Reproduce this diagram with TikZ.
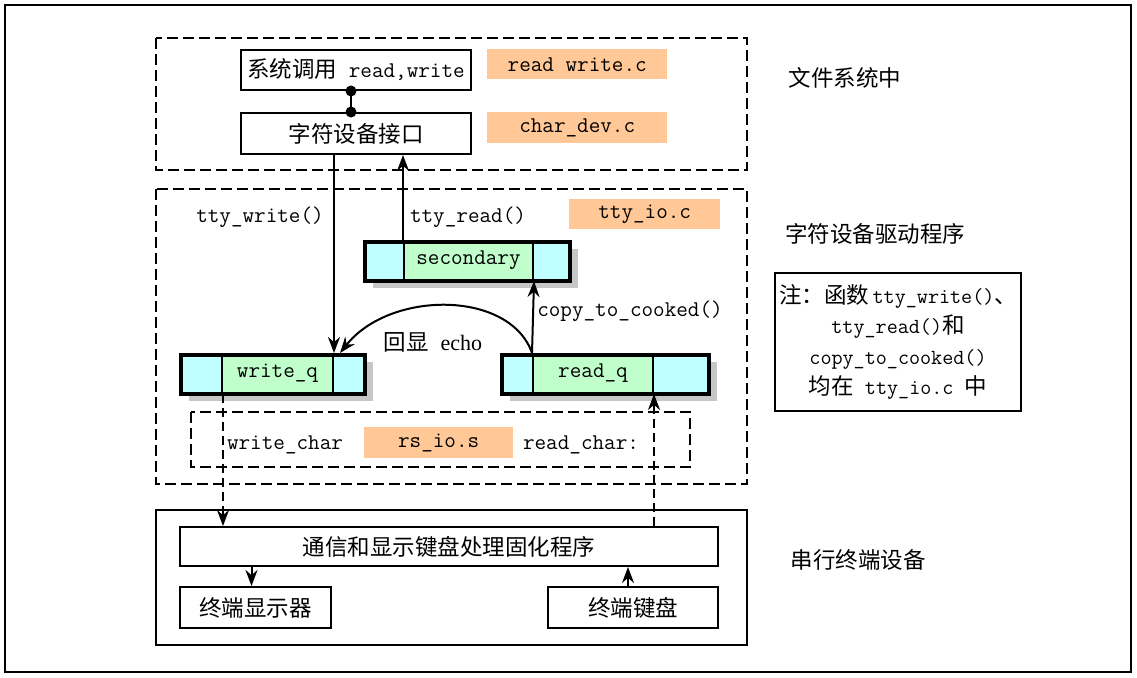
\documentclass[tikz,border=0pt]{standalone}
\usepackage{fontspec}
\newfontfamily\cjk{Noto Sans CJK SC}
\newfontfamily\serifw{Liberation Serif}
\usetikzlibrary{arrows.meta}
\definecolor{orfill}{RGB}{255,200,150}
\definecolor{qcyan}{RGB}{192,255,255}
\definecolor{qgreen}{RGB}{192,255,204}
\newcommand{\cj}[1]{{\cjk\fontsize{22.5}{26}\selectfont #1}}
\begin{document}
\begin{tikzpicture}[x=1pt,y=-1pt,
  every node/.style={font=\ttfamily\fontsize{22.5}{26}\selectfont, inner sep=0pt},
  box/.style={draw, line width=2pt, anchor=north west},
  orbox/.style={fill=orfill, anchor=north west},
  dbox/.style={draw, line width=2pt, dash pattern=on 11pt off 5pt},
  cell/.style={draw, line width=2pt, anchor=north west, minimum height=39pt},
  qframe/.style={draw, line width=4pt, anchor=north west, minimum height=39pt},
  shadowbox/.style={fill=gray!45, anchor=north west, minimum height=39pt},
  arr/.style={line width=2pt, -{Stealth[length=16pt,width=12pt]}},
  darr/.style={line width=2pt, dash pattern=on 9pt off 5pt, -{Stealth[length=16pt,width=12pt]}},
  lbl/.style={}]
\useasboundingbox (0,0) rectangle (1137,677);
\draw[line width=2.5pt] (5,5) rectangle (1131,672);

% dashed / solid group frames
\draw[dbox] (156,38) rectangle (747,170);
\draw[dbox] (156,189) rectangle (747,484);
\draw[dbox] (191,412) rectangle (690,467);
\draw[line width=2pt] (156,510) rectangle (747,645);

% top group
\node[box, minimum width=230pt, minimum height=40pt] (sys) at (240,49) {\cj{系统调用} read,write};
\node[orbox, minimum width=180pt, minimum height=30pt] (rw) at (487,49) {read write.c};
\node[box, minimum width=230pt, minimum height=41pt] (cdev) at (240,112) {\cj{字符设备接口}};
\node[orbox, minimum width=180pt, minimum height=31pt] (cd) at (487,112) {char\_dev.c};
\coordinate (d1) at ([xshift=-5pt]sys.south);
\coordinate (d2) at ([xshift=-5pt]cdev.north);
\draw[line width=2.5pt] (d1) -- (d2);
\fill (d1) circle (5.5pt);
\fill (d2) circle (5.5pt);

% middle group
\node[orbox, minimum width=151pt, minimum height=30pt] (tio) at (569,199) {tty\_io.c};
\node[lbl] (twl) at (260,217) {tty\_write()};
\node[lbl] (trl) at (468,217) {tty\_read()};

% secondary queue
\node[shadowbox, minimum width=205pt] (secS) at (373,249) {};
\node[cell, fill=qcyan, minimum width=40pt] (secL) at (363,240) {};
\node[cell, fill=qgreen, minimum width=129pt] (secG) at (403,240) {secondary};
\node[cell, fill=qcyan, minimum width=36pt] (secR) at (532,240) {};
\node[qframe, minimum width=205pt] (sec) at (363,240) {};

% write_q
\node[shadowbox, minimum width=184pt] (wqS) at (189,362) {};
\node[cell, fill=qcyan, minimum width=42pt] (wqL) at (179,353) {};
\node[cell, fill=qgreen, minimum width=111pt] (wqG) at (221,353) {write\_q};
\node[cell, fill=qcyan, minimum width=31pt] (wqR) at (332,353) {};
\node[qframe, minimum width=184pt] (wq) at (179,353) {};

% read_q
\node[shadowbox, minimum width=207pt] (rqS) at (510,362) {};
\node[cell, fill=qcyan, minimum width=32pt] (rqL) at (500,353) {};
\node[cell, fill=qgreen, minimum width=120pt] (rqG) at (532,353) {read\_q};
\node[cell, fill=qcyan, minimum width=55pt] (rqR) at (652,353) {};
\node[qframe, minimum width=207pt] (rq) at (500,353) {};

\node[lbl] (ctc) at (630,311) {copy\_to\_cooked()};
\node[lbl] (echo) at (433,342) {\cj{回显} {\serifw\fontsize{22}{26}\selectfont echo}};

\node[lbl] (wch) at (285,445) {write\_char};
\node[orbox, minimum width=149pt, minimum height=31pt] (rsio) at (364,427) {rs\_io.s};
\node[lbl] (rch) at (581,445) {read\_char:};

% bottom group
\node[box, minimum width=538pt, minimum height=39pt] (comm) at (179,526) {\cj{通信和显示键盘处理固化程序}};
\node[box, minimum width=151pt, minimum height=41pt] (disp) at (179,586) {\cj{终端显示器}};
\node[box, minimum width=170pt, minimum height=41pt] (kb) at (547,586) {\cj{终端键盘}};

% right labels
\node (l1) at (845,78) {\cj{文件系统中}};
\node (l2) at (875,234) {\cj{字符设备驱动程序}};
\node (l3) at (858,560) {\cj{串行终端设备}};
\node[draw, line width=2pt, minimum width=246pt, minimum height=138pt, align=center, font=\ttfamily\fontsize{21.5}{30.5}\selectfont] (note) at (898,342)
  {\cj{注：函数}\,tty\_write()\cj{、}\\tty\_read()\cj{和}\\copy\_to\_cooked()\\\cj{均在}~tty\_io.c~\cj{中}};

% connectors
\draw[arr] (cdev.south -| wqG.east) -- (wqG.north east);
\draw[arr] (secG.north west) -- (secG.north west |- cdev.south);
\draw[arr] (rqG.north west) -- (secG.south east);
\draw[arr] (rqG.north west) .. controls (510,290) and (390,290) .. ([xshift=6pt]wqG.north east);
\draw[darr] (wqL.south east) -- (wqL.south east |- comm.north);
\draw[darr] (rqG.south east |- comm.north) -- (rqG.south east);
\coordinate (a1) at ([xshift=-4pt]disp.north);
\draw[arr] (comm.south -| a1) -- (a1);
\coordinate (a2) at ([xshift=-5pt]kb.north);
\draw[arr] (a2) -- (comm.south -| a2);
\end{tikzpicture}
\end{document}
